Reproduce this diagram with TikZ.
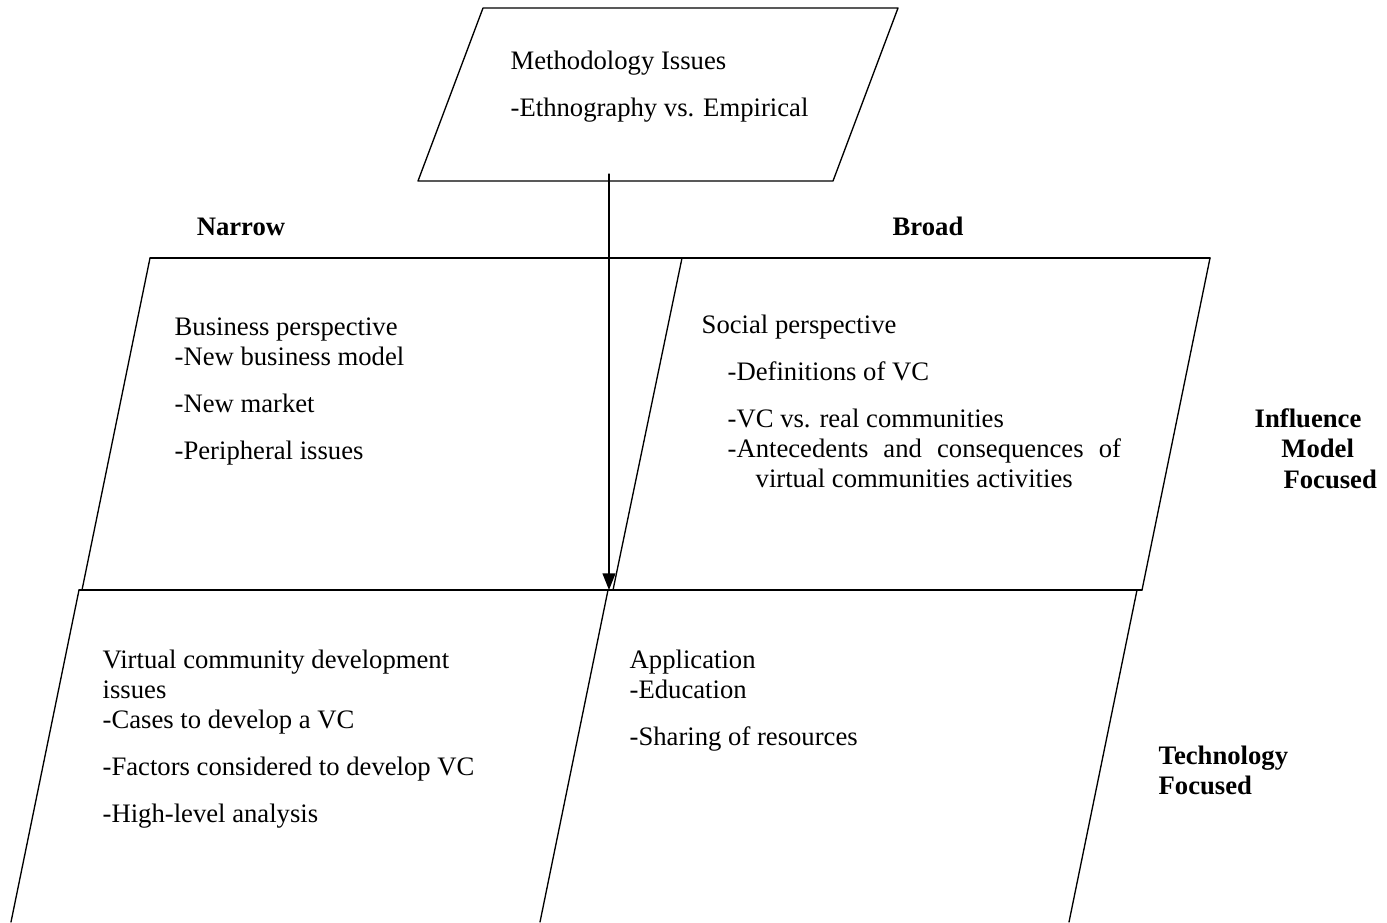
\documentclass[tikz,border=0pt]{standalone}
\usepackage{fontspec}
\setmainfont{Liberation Serif}
\usetikzlibrary{arrows.meta}
\tikzset{
	txt/.style={anchor=north west,align=left,inner sep=0pt,font=\fontsize{12}{13.5}\selectfont},
	hdr/.style={txt,font=\fontsize{12}{13.8}\selectfont\bfseries},
}
\newcommand{\gap}{\\[7.7pt]}
\begin{document}
\begin{tikzpicture}[x=0.45pt,y=-0.45pt,line cap=round,line join=round,line width=0.6pt,>={Triangle[length=7.5pt,width=5.8pt]}]
			\useasboundingbox (0,0) rectangle (1387,922);
			% methodology box
			\draw (483,8) -- (898,8) -- (833,181) -- (418,181) -- cycle;
			\node[txt] (meth) at (510,48) {\strut Methodology Issues\gap -Ethnography vs. Empirical};
			% upper row
			\draw (150,258) -- (1210,258);
			\draw (150,258) -- (82,590);
			\draw (682,258) -- (613,590);
			\draw (1210,258) -- (1142,590);
			\draw (79,590) -- (1142,590);
			% lower row
			\draw (79,590) -- (11,922);
			\draw (608,590) -- (540,922);
			\draw (1137,590) -- (1069,922);
			% arrow
			\coordinate (src) at (609,174);
			\coordinate (hub) at (609,590);
			\draw[->] (src) -- (hub);
			% headings
			\node[hdr,anchor=base] (narrow) at (241,235) {Narrow};
			\node[hdr,anchor=base] (broad) at (928,235) {Broad};
			\node[hdr] (infl) at (1254,405) {\strut Influence\\\hspace*{12pt}Model\\\hspace*{13pt}Focused};
			\node[hdr] (tech) at (1158,742) {\strut Technology\\Focused};
			% cells
			\node[txt] (bus) at (174,314) {\strut Business perspective\\-New business model\gap -New market\gap -Peripheral issues};
			\node[txt] (soc) at (701,312) {\strut Social perspective\gap
				\hspace*{11.7pt}-Definitions of VC\gap
				\hspace*{11.7pt}-VC vs. real communities\\
				\hspace*{11.7pt}\makebox[177pt][s]{-Antecedents and consequences of}\\
				\hspace*{24.3pt}virtual communities activities};
			\node[txt] (vcd) at (102,647) {\strut Virtual community development\\issues\\-Cases to develop a VC\gap -Factors considered to develop VC\gap -High-level analysis};
			\node[txt] (app) at (629,647) {\strut Application\\-Education\gap -Sharing of resources};
		\end{tikzpicture}
\end{document}
